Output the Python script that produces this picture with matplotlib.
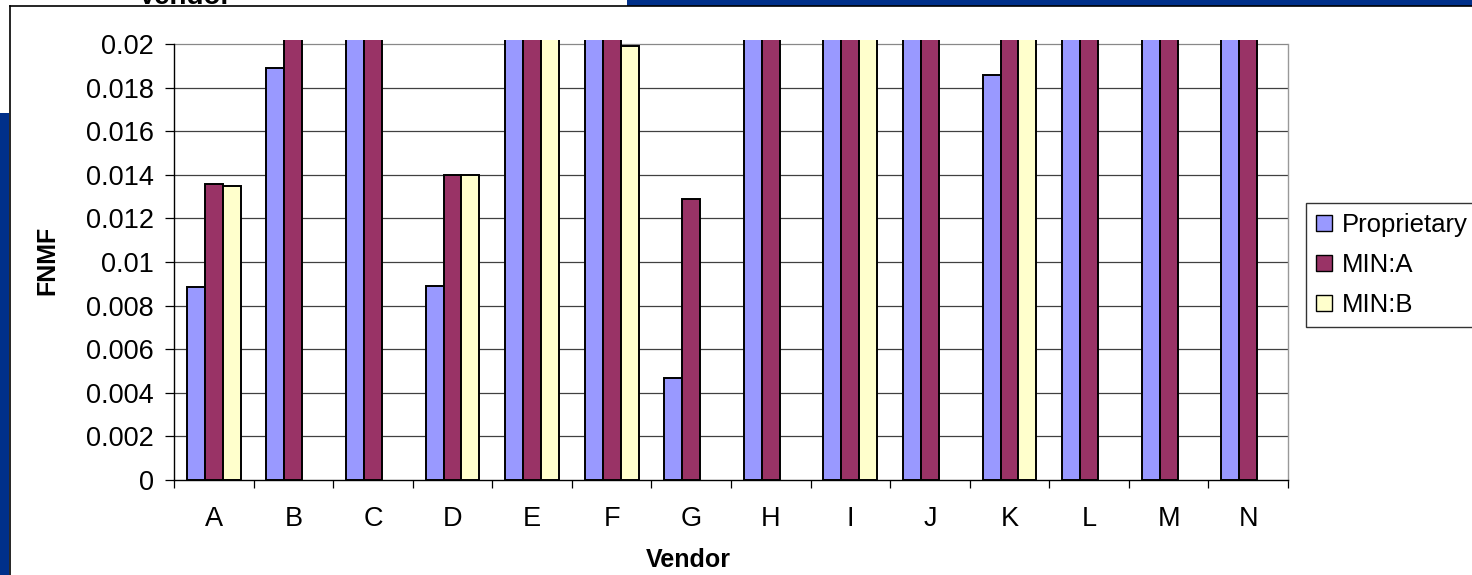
import numpy as np
import matplotlib
matplotlib.use("Agg")
import matplotlib.pyplot as plt
from matplotlib.patches import Rectangle, Patch
from matplotlib.lines import Line2D

plt.rcParams['font.family'] = ['Liberation Sans', 'DejaVu Sans']

# ---- data (values above 0.02 are off-scale in the original chart) ----
vendors = ["A", "B", "C", "D", "E", "F", "G", "H", "I", "J", "K", "L", "M", "N"]
series_names = ["Proprietary", "MIN:A", "MIN:B"]
proprietary = [0.00885, 0.0189, 0.03, 0.0089, 0.03, 0.03, 0.0047, 0.03, 0.03, 0.03, 0.0186, 0.03, 0.03, 0.03]
min_a = [0.0136, 0.03, 0.03, 0.0140, 0.03, 0.03, 0.0129, 0.03, 0.03, 0.03, 0.03, 0.03, 0.03, 0.03]
min_b = [0.0135, np.nan, np.nan, 0.0140, 0.03, 0.0199, np.nan, np.nan, 0.03, np.nan, 0.03, np.nan, np.nan, np.nan]
y_ticks = [0, 0.002, 0.004, 0.006, 0.008, 0.01, 0.012, 0.014, 0.016, 0.018, 0.02]
y_tick_labels = ["0", "0.002", "0.004", "0.006", "0.008", "0.01", "0.012", "0.014", "0.016", "0.018", "0.02"]
colors = ["#9999FF", "#993366", "#FFFFCC"]

W, H = 1472, 575
fig = plt.figure(figsize=(W / 100, H / 100), dpi=100)
fig.patch.set_facecolor("white")

def fx(px):
    return px / W

def fy(py):
    return 1 - py / H

navy = "#00308A"
# slide decorations
fig.add_artist(Rectangle((fx(627), fy(6)), 1 - fx(627), 6 / H, transform=fig.transFigure,
                         facecolor=navy, edgecolor="none", zorder=0))
fig.add_artist(Rectangle((0, 0), fx(9), fy(113), transform=fig.transFigure,
                         facecolor=navy, edgecolor="none", zorder=0))
fig.add_artist(Line2D([fx(10), 1], [fy(6), fy(6)], transform=fig.transFigure,
                      color="black", lw=1.2, zorder=1))
fig.add_artist(Line2D([fx(10), fx(10)], [0, fy(6)], transform=fig.transFigure,
                      color="black", lw=1.2, zorder=1))
fig.text(fx(185), fy(4), "Vendor", ha="center", va="baseline", fontsize=20,
         fontweight="bold", color="black")

# ---- axes ----
left, right, bottom, top = 174, 1288, 480, 40
ax = fig.add_axes([fx(left), fy(bottom), fx(right - left), (bottom - top) / H])
ax.set_facecolor("none")
ymax = 0.02 * (bottom - top) / (bottom - 44)
ax.set_ylim(0, ymax)
ax.set_xlim(-0.5, len(vendors) - 0.5)

x = np.arange(len(vendors))
bw = 0.226
for i, (vals, c, name) in enumerate(zip([proprietary, min_a, min_b], colors, series_names)):
    ax.bar(x + (i - 1) * bw, vals, width=bw, color=c, edgecolor="black",
           linewidth=1.4, zorder=3, label=name)

# gridlines
for t in y_ticks[1:]:
    ax.axhline(t, color="#404040" if t < 0.02 else "#888888", lw=0.9, zorder=1)

ax.spines["top"].set_visible(False)
ax.spines["right"].set_bounds(0, 0.02)
ax.spines["right"].set_color("#999999")
ax.spines["right"].set_linewidth(1.0)
ax.spines["left"].set_bounds(0, 0.02)
ax.spines["left"].set_linewidth(1.0)
ax.spines["bottom"].set_linewidth(1.0)

ax.set_yticks(y_ticks)
ax.set_yticklabels(y_tick_labels)
ax.tick_params(axis="y", direction="out", length=6.5, width=0.9, pad=8, labelsize=19.5)

ax.set_xticks(np.arange(len(vendors) + 1) - 0.5)
ax.set_xticklabels([])
ax.tick_params(axis="x", which="major", direction="out", length=6, width=0.9)
ax.set_xticks(x, minor=True)
ax.set_xticklabels(vendors, minor=True)
ax.tick_params(axis="x", which="minor", length=0, pad=19, labelsize=19.5)

fig.text(fx(688), fy(567), "Vendor", ha="center", va="baseline", fontsize=18,
         fontweight="bold")
fig.text(fx(47), fy(260), "FNMF", ha="center", va="center", rotation=90,
         fontsize=18, fontweight="bold")

handles = [Patch(facecolor=c, edgecolor="black", linewidth=1.0) for c in colors]
leg = fig.legend(handles, series_names, loc="upper left",
                 bbox_to_anchor=(fx(1306), fy(203)), bbox_transform=fig.transFigure,
                 borderaxespad=0, fontsize=18.5, frameon=True, fancybox=False,
                 edgecolor="black", handlelength=0.6, handleheight=0.6,
                 handletextpad=0.4, labelspacing=0.62, borderpad=0.4)
leg.get_frame().set_linewidth(1.0)

fig.savefig("out.png", dpi=100)
